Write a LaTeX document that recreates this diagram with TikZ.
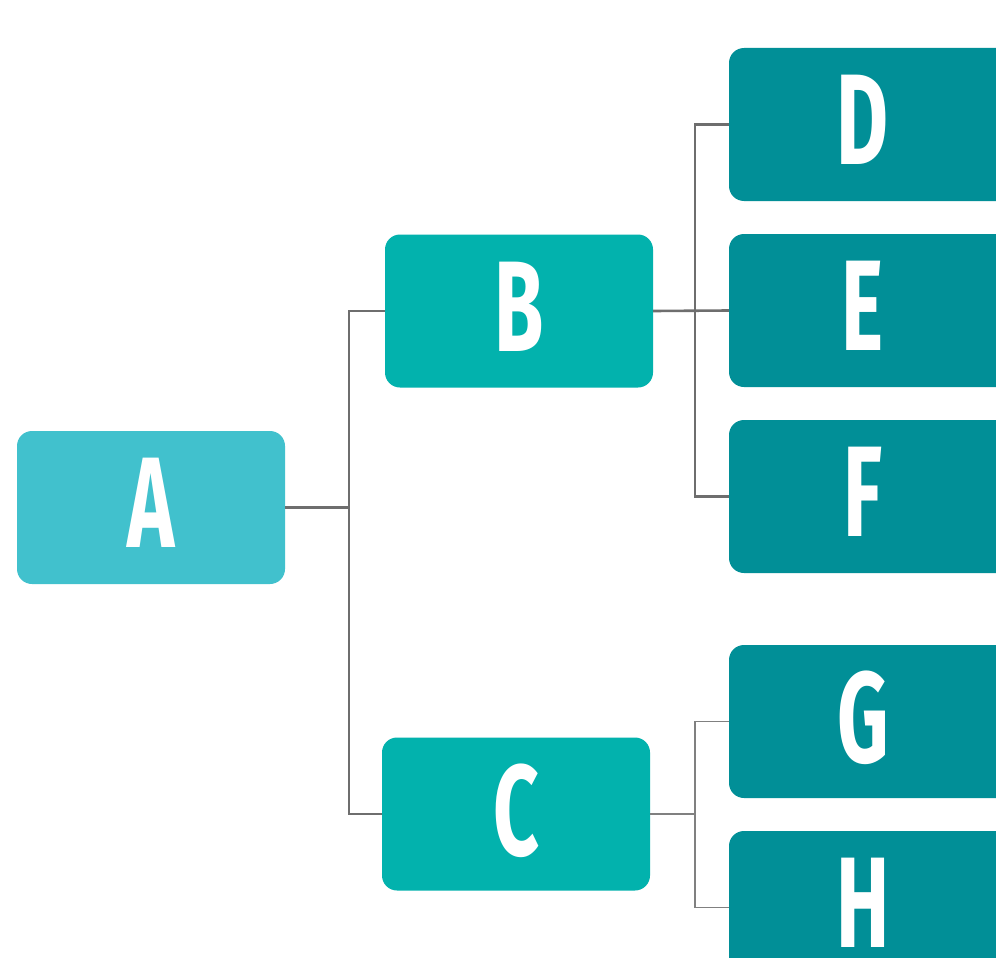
\documentclass[tikz,border=0pt]{standalone}
\usepackage{fontspec}
\setmainfont{Fira Sans}
\definecolor{cA}{HTML}{41C1CD}
\definecolor{cB}{HTML}{02B2AD}
\definecolor{cD}{HTML}{018F97}
\definecolor{ln}{HTML}{6E6E6E}
\definecolor{lnt}{HTML}{808080}
\tikzset{
  box/.style={rectangle, rounded corners=15pt, minimum width=268pt, minimum height=153pt, inner sep=0pt, text=white,
    font=\fontsize{129}{129}\selectfont\bfseries},
  widebox/.style={box, minimum width=290pt},
  conn/.style={draw=ln, line width=2.6pt},
  connt/.style={draw=lnt, line width=1.8pt}
}
\newcommand{\lbl}[1]{\raisebox{9pt}{\scalebox{0.62}[1]{#1}}}
\newcommand{\lblr}[1]{\hspace*{-11pt}\lbl{#1}\hspace*{11pt}}
\begin{document}
\begin{tikzpicture}[x=1pt,y=-1pt]
\useasboundingbox (0,0) rectangle (996,958);
\clip (0,0) rectangle (996,958);
\fill[white] (0,0) rectangle (996,958);
\node[box, fill=cA] (A) at (151,507.5) {\lbl{A}};
\node[box, fill=cB] (B) at (519,311) {\lbl{B}};
\node[box, fill=cB] (C) at (516,814) {\lbl{C}};
\node[widebox, fill=cD] (D) at (874,124.5) {\lblr{D}};
\node[widebox, fill=cD] (E) at (874,310.5) {\lblr{E}};
\node[widebox, fill=cD] (F) at (874,496.5) {\lblr{F}};
\node[widebox, fill=cD] (G) at (874,721.5) {\lblr{G}};
\node[widebox, fill=cD] (H) at (874,907.5) {\lblr{H}};
\coordinate (j1) at (349,507.5);
\coordinate (j2) at (695,311);
\coordinate (j3) at (695,814);
\draw[conn] (A.east) -- (j1);
\draw[conn] (j1) |- (B.west);
\draw[conn] (j1) |- (C.west);
\draw[conn] (B.east) -- (E.west);
\draw[conn] (j2) |- (D.west);
\draw[conn] (j2) |- (F.west);
\draw[connt] (C.east) -- (j3);
\draw[connt] (j3) |- (G.west);
\draw[connt] (j3) |- (H.west);
\end{tikzpicture}
\end{document}
